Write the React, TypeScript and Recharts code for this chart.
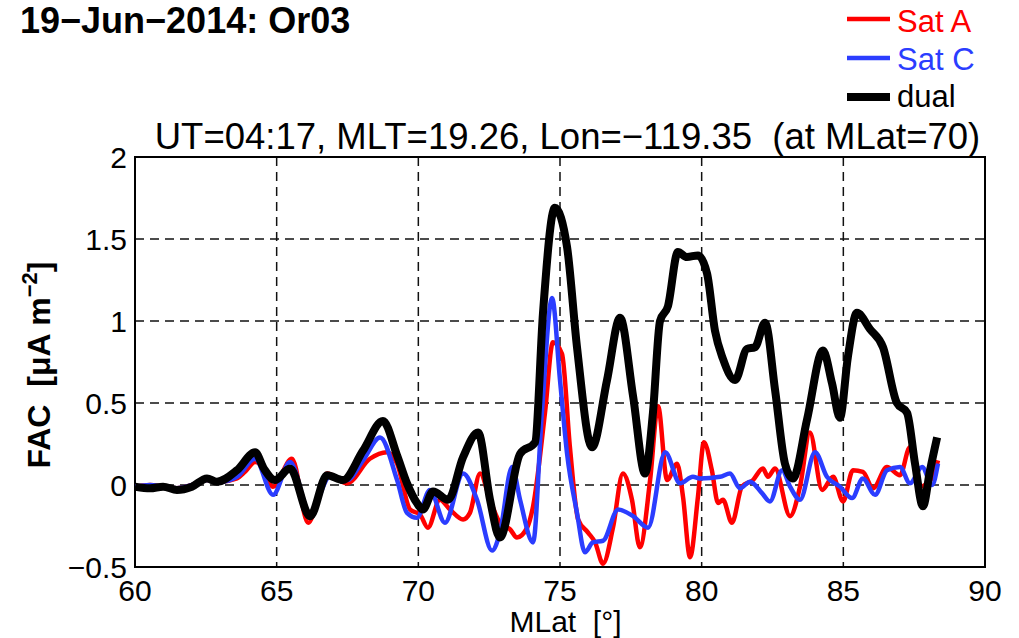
import { LineChart, Line, XAxis, YAxis, CartesianGrid, ReferenceArea } from 'recharts'

const FONT = '"Liberation Sans", Arial, Helvetica, sans-serif'

const latTicks = [60, 65, 70, 75, 80, 85, 90]
const facTicks = [-0.5, 0, 0.5, 1, 1.5, 2]

// dual-satellite estimate
const dualLat = [
  60.0, 60.53, 60.99, 61.48, 62.01, 62.54, 62.89, 63.6, 64.24, 64.55, 64.94, 65.47, 66.18, 66.78,
  67.34, 68.05, 68.75, 69.25, 69.6, 69.95, 70.16, 70.52, 71.05, 71.58, 72.11, 72.53, 72.88, 73.59,
  74.12, 74.4, 74.82, 75.25, 75.6, 76.13, 76.66, 77.12, 77.58, 78.0, 78.28, 78.53, 78.81, 79.16,
  79.48, 79.87, 80.19, 80.47, 80.75, 81.18, 81.6, 81.88, 82.24, 82.59, 82.94, 83.22, 83.72, 84.28,
  84.6, 84.88, 85.16, 85.48, 85.94, 86.4, 86.89, 87.25, 87.53, 87.81, 88.06, 88.31,
]
const dualFac = [
  -0.01, -0.02, -0.01, -0.03, -0.01, 0.04, 0.02, 0.09, 0.2, 0.1, 0.03, 0.1, -0.19, 0.06,
  0.03, 0.21, 0.39, 0.18, 0.01, -0.11, -0.15, -0.04, -0.09, 0.17, 0.32, -0.09, -0.32, 0.19,
  0.26, 1.05, 1.69, 1.45, 0.84, 0.23, 0.64, 1.02, 0.54, 0.07, 0.44, 1.0, 1.09, 1.42,
  1.39, 1.4, 1.29, 0.94, 0.77, 0.64, 0.83, 0.84, 0.99, 0.58, 0.13, 0.04, 0.4, 0.82,
  0.62, 0.41, 0.78, 1.05, 0.95, 0.84, 0.5, 0.44, 0.13, -0.13, 0.09, 0.29,
]

// Sat A
const satALat = [
  60.0, 60.53, 60.99, 61.48, 62.01, 62.54, 63.0, 63.6, 63.88, 64.24, 64.55, 64.87, 65.54, 66.11,
  66.78, 67.48, 68.29, 68.89, 69.25, 69.71, 70.06, 70.34, 70.76, 71.12, 71.58, 71.82, 72.18, 72.53,
  72.88, 73.24, 73.48, 73.84, 74.05, 74.47, 74.75, 75.07, 75.35, 75.64, 75.99, 76.24, 76.52, 76.87,
  77.22, 77.54, 77.82, 78.18, 78.46, 78.78, 79.13, 79.34, 79.59, 79.87, 80.08, 80.36, 80.58, 80.75,
  81.07, 81.42, 81.81, 82.16, 82.34, 82.59, 83.12, 83.47, 83.82, 84.25, 84.64, 84.99, 85.34, 85.69,
  86.05, 86.54, 87.0, 87.35, 87.71, 88.16, 88.34,
]
const satAFac = [
  -0.01, 0.0, -0.01, -0.02, 0.0, 0.03, 0.02, 0.04, 0.08, 0.14, 0.1, -0.01, 0.16, -0.23,
  0.07, 0.01, 0.16, 0.2, 0.13, -0.15, -0.18, -0.26, -0.09, -0.15, -0.21, -0.17, 0.07, -0.09,
  -0.23, -0.27, -0.32, -0.26, -0.13, 0.44, 0.87, 0.8, 0.23, -0.21, -0.29, -0.35, -0.48, -0.26,
  0.07, -0.09, -0.38, 0.03, 0.48, 0.03, 0.13, -0.07, -0.44, -0.07, 0.26, 0.09, -0.11, -0.09,
  -0.23, -0.01, 0.03, 0.1, 0.05, 0.1, -0.19, -0.01, 0.32, -0.03, 0.05, -0.1, 0.09, 0.08,
  -0.02, 0.11, 0.06, 0.23, -0.01, 0.05, 0.15,
]

// Sat C
const satCLat = [
  60.0, 60.53, 60.99, 61.48, 62.01, 62.54, 63.0, 63.6, 64.24, 64.87, 65.47, 66.18, 66.88, 67.48,
  68.05, 68.65, 69.25, 69.6, 69.95, 70.41, 70.94, 71.58, 72.07, 72.6, 72.88, 73.31, 73.59, 74.05,
  74.36, 74.72, 75.0, 75.25, 75.6, 75.88, 76.16, 76.52, 77.05, 77.58, 78.11, 78.71, 79.24, 79.69,
  79.94, 80.65, 81.0, 81.35, 81.71, 82.13, 82.41, 82.84, 83.12, 83.47, 84.0, 84.42, 84.88, 85.31,
  85.69, 86.12, 86.54, 87.0, 87.35, 87.78, 88.13, 88.34,
]
const satCFac = [
  -0.01, 0.0, -0.01, -0.02, 0.0, 0.03, 0.02, 0.05, 0.16, -0.06, 0.14, -0.17, 0.05, 0.03,
  0.15, 0.29, 0.03, -0.17, -0.2, -0.03, -0.23, 0.07, -0.09, -0.4, -0.29, 0.11, -0.09, -0.35,
  0.44, 1.14, 0.64, 0.19, -0.17, -0.41, -0.35, -0.34, -0.15, -0.19, -0.26, 0.2, 0.01, 0.05,
  0.04, 0.05, 0.07, -0.02, 0.02, -0.05, -0.1, 0.09, -0.01, -0.09, 0.2, 0.05, -0.01, -0.08,
  0.04, -0.06, 0.09, 0.11, 0.01, 0.11, 0.0, 0.13,
]

const toPoints = (lat: number[], fac: number[]) => lat.map((x, i) => ({ lat: x, fac: fac[i] }))

const dual = toPoints(dualLat, dualFac)
const satA = toPoints(satALat, satAFac)
const satC = toPoints(satCLat, satCFac)

const RED = '#ff0000'
const BLUE = '#2b3dff'

const fmtFac = (v: number) => (v < 0 ? '\u2212' + Math.abs(v) : String(v))

const tickStyle = { fontSize: 30, fill: '#000', fontFamily: FONT }

export default function App() {
  return (
    <div style={{ position: 'absolute', left: 0, top: 0, width: 1019, height: 638, background: '#fff', fontFamily: FONT }}>
      <LineChart width={1019} height={638} margin={{ top: 157, right: 34, left: 0, bottom: 0 }}>
        <CartesianGrid stroke="#111" strokeWidth={1.5} strokeDasharray="9 6" />
        <XAxis
          type="number"
          dataKey="lat"
          domain={[60, 90]}
          ticks={latTicks}
          height={71}
          tick={tickStyle}
          tickSize={0}
          tickMargin={13}
          axisLine={false}
          allowDataOverflow
        />
        <YAxis
          type="number"
          domain={[-0.5, 2]}
          ticks={facTicks}
          width={135}
          tick={tickStyle}
          tickFormatter={fmtFac}
          tickSize={0}
          tickMargin={8}
          axisLine={false}
          allowDataOverflow
        />
        <Line data={satA} dataKey="fac" type="monotone" stroke={RED} strokeWidth={4.5} dot={false} isAnimationActive={false} />
        <Line data={satC} dataKey="fac" type="monotone" stroke={BLUE} strokeWidth={4.5} dot={false} isAnimationActive={false} />
        <Line data={dual} dataKey="fac" type="monotone" stroke="#000" strokeWidth={8} dot={false} isAnimationActive={false} />
        <ReferenceArea x1={60} x2={90} y1={-0.5} y2={2} fill="none" fillOpacity={0} stroke="#000" strokeWidth={2} />
      </LineChart>

      <svg width={1019} height={638} style={{ position: 'absolute', left: 0, top: 0, pointerEvents: 'none' }}>
        <text x={20} y={33} fontSize={36} fontWeight="bold" fontFamily={FONT}>19−Jun−2014: Or03</text>
        <text x={567.5} y={149} fontSize={36.5} textAnchor="middle" fontFamily={FONT} style={{ whiteSpace: 'pre' }}>
          UT=04:17, MLT=19.26, Lon=−119.35  (at MLat=70)
        </text>

        <line x1={847} x2={890} y1={19} y2={19} stroke={RED} strokeWidth={4.5} />
        <text x={897} y={31.7} fontSize={31} fill={RED} fontFamily={FONT}>Sat A</text>
        <line x1={847} x2={890} y1={58} y2={58} stroke={BLUE} strokeWidth={4.5} />
        <text x={897} y={70} fontSize={31} fill={BLUE} fontFamily={FONT}>Sat C</text>
        <line x1={847} x2={890} y1={97} y2={97} stroke="#000" strokeWidth={8} />
        <text x={897} y={106.5} fontSize={31} fill="#000" fontFamily={FONT}>dual</text>

        <text x={565.5} y={631.5} fontSize={30} textAnchor="middle" fontFamily={FONT} style={{ whiteSpace: 'pre' }}>
          MLat  [°]
        </text>
        <text
          transform="translate(50,365) rotate(-90)"
          fontSize={32}
          fontWeight="bold"
          textAnchor="middle"
          fontFamily={FONT}
          style={{ whiteSpace: 'pre' }}
        >
          FAC  [μA m<tspan dy={-13} fontSize={22}>−2</tspan><tspan dy={13}>]</tspan>
        </text>
      </svg>
    </div>
  )
}
